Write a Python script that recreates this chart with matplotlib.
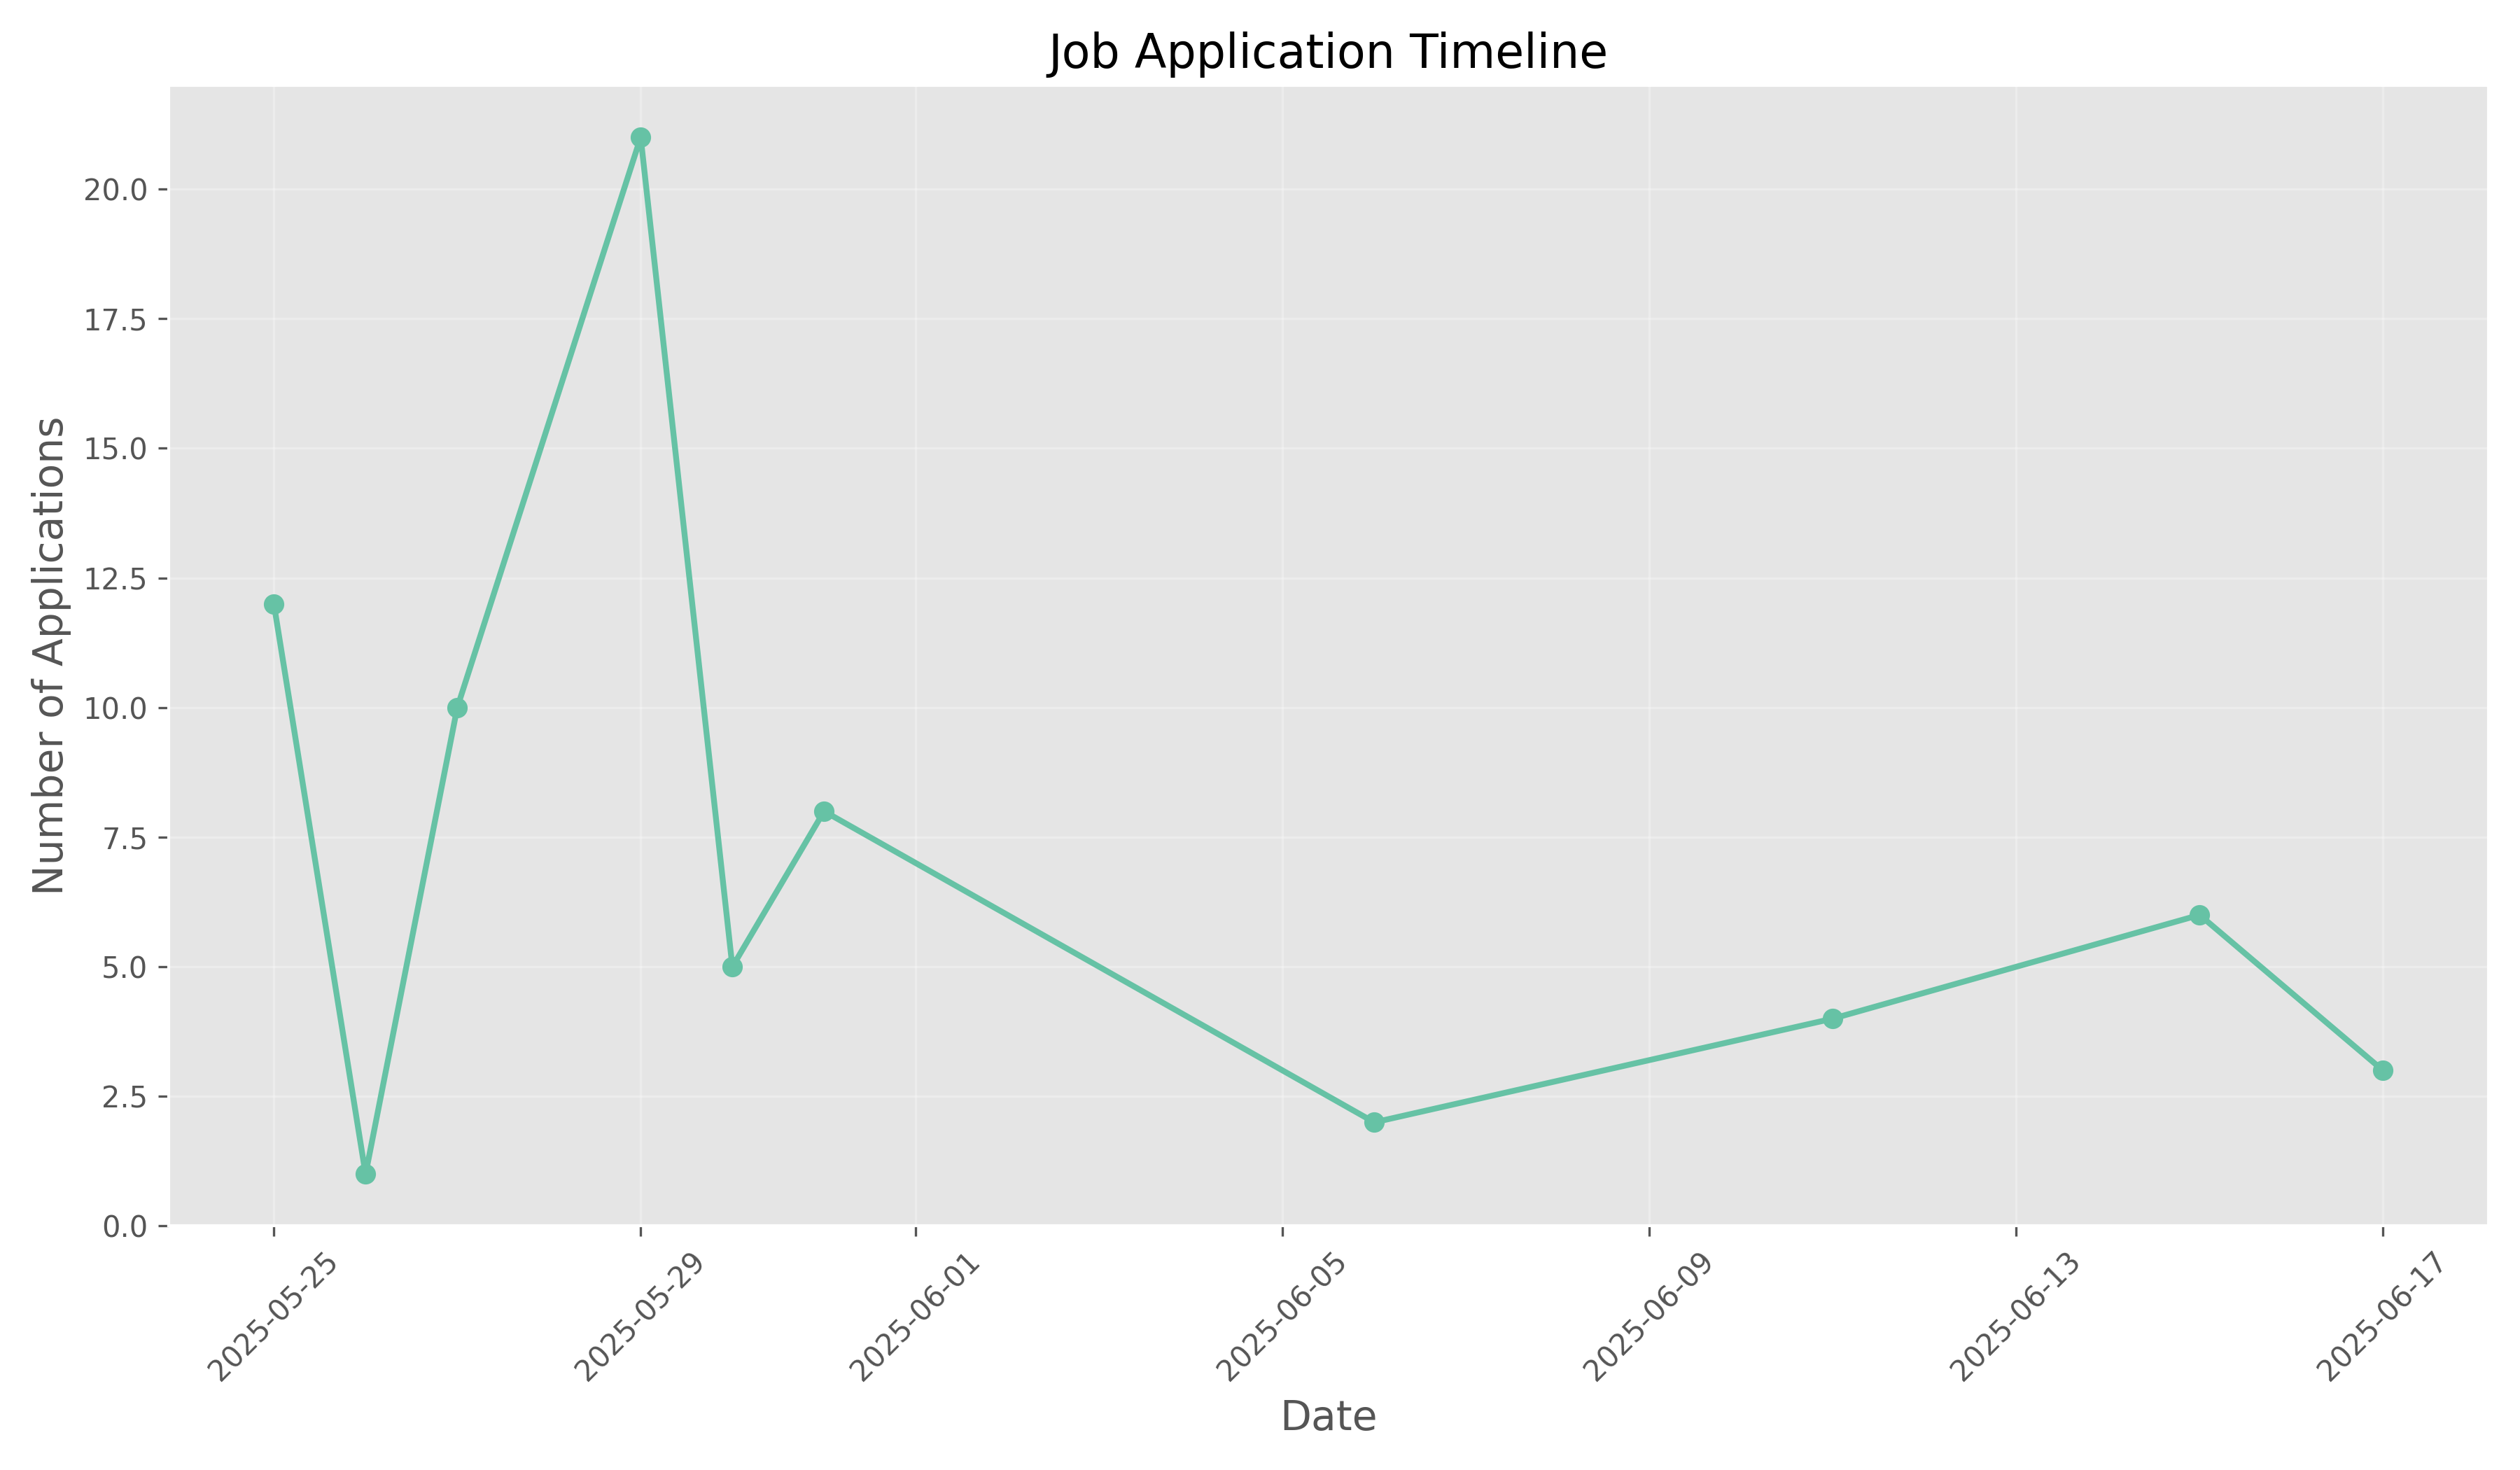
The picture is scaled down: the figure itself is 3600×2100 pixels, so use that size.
import matplotlib.pyplot as plt
import matplotlib.dates as mdates
import pandas as pd

datas = ['2025-05-25', '2025-05-26', '2025-05-27', '2025-05-29', '2025-05-30',
         '2025-05-31', '2025-06-06', '2025-06-11', '2025-06-15', '2025-06-17']
candidaturas = [12, 1, 10, 21, 5, 8, 2, 4, 6, 3]

plt.style.use('ggplot')
fig, ax = plt.subplots(figsize=(12, 7), dpi=300)

x = pd.to_datetime(datas)
ax.plot(x, candidaturas, marker='o', linestyle='-', color='#66c2a5', linewidth=2, markersize=6)

ax.set_title('Job Application Timeline', fontsize=16)
ax.set_xlabel('Date', fontsize=14)
ax.set_ylabel('Number of Applications', fontsize=14)
ax.set_ylim(bottom=0)
ax.grid(True, alpha=0.3)
ax.xaxis.set_major_formatter(mdates.DateFormatter('%Y-%m-%d'))
plt.setp(ax.get_xticklabels(), rotation=45)

plt.tight_layout()
plt.savefig('out.png')
